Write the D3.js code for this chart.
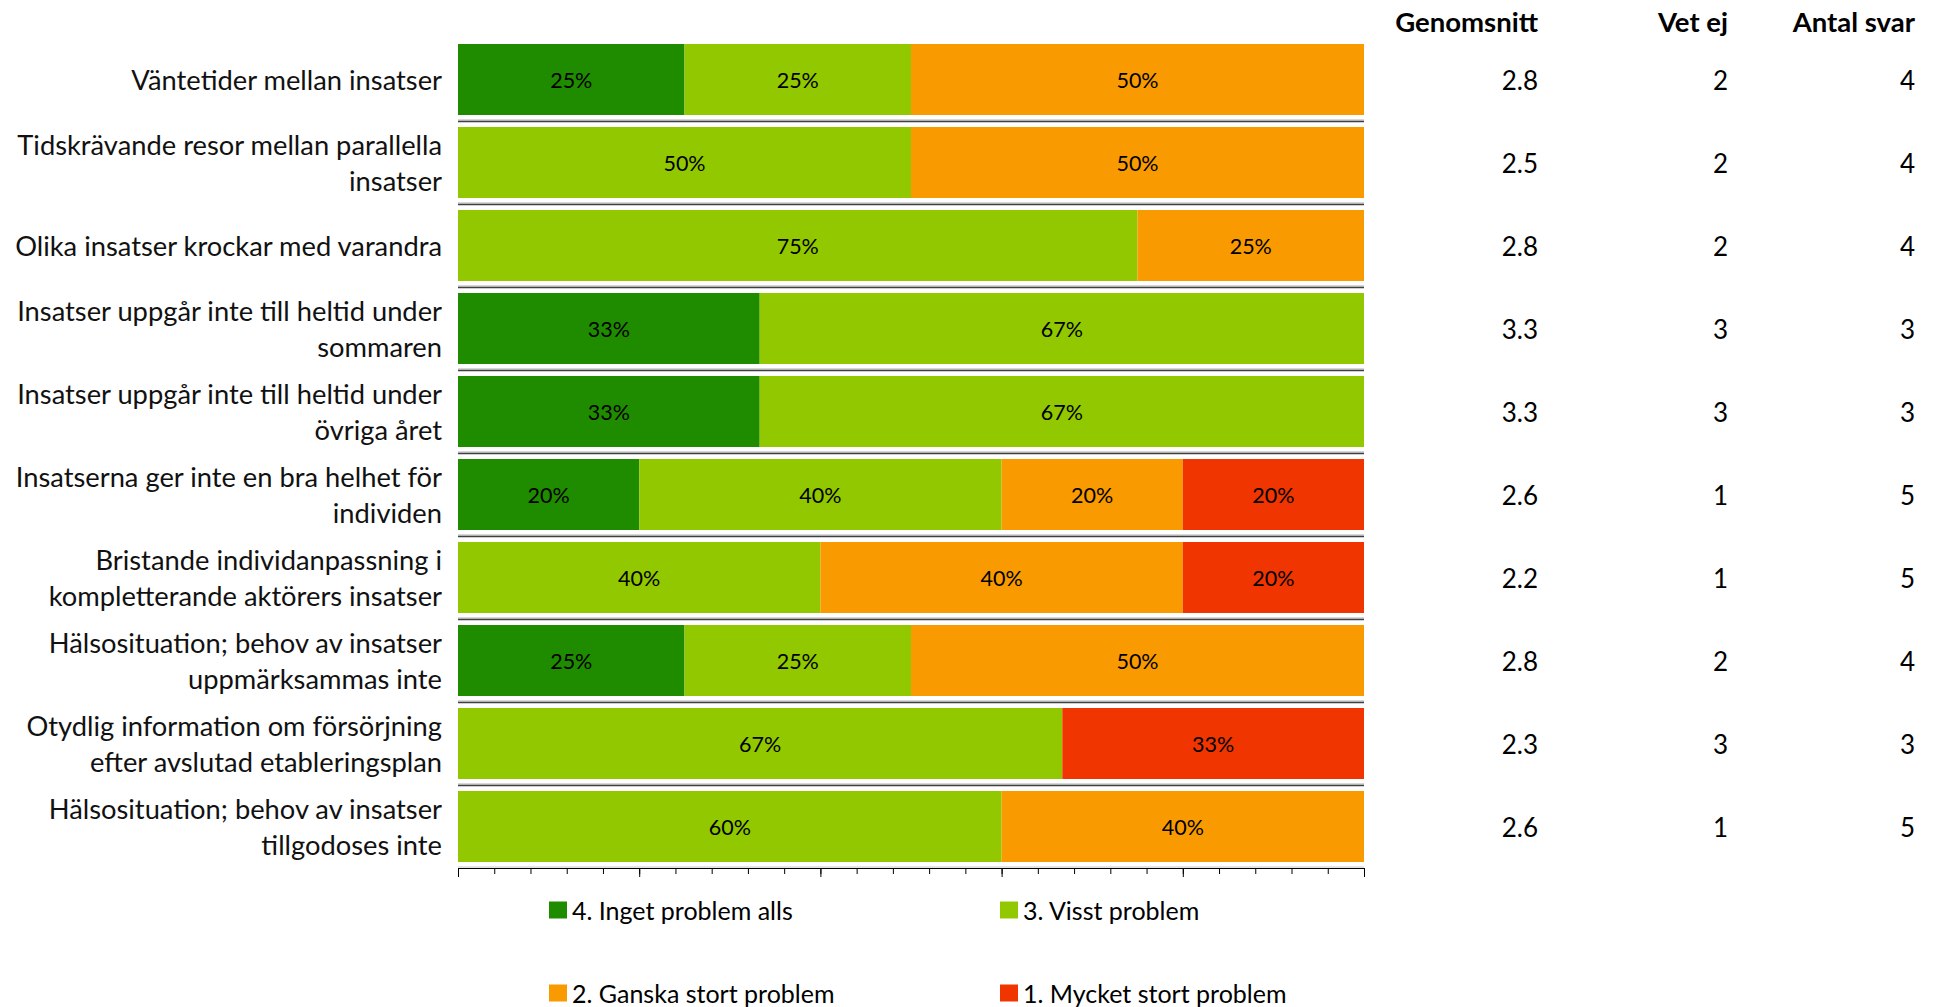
<!DOCTYPE html>
<html><head><meta charset="utf-8">
<script src="https://cdn.jsdelivr.net/npm/d3@7"></script>
<style>
html,body{margin:0;padding:0;background:#fff;}
svg{display:block;font-family:Lato,"Open Sans",sans-serif;}
</style></head>
<body>
<svg id="chart" width="1934" height="1007"></svg>
<script>
const categories = [
  "Väntetider mellan insatser",
  "Tidskrävande resor mellan parallella|insatser",
  "Olika insatser krockar med varandra",
  "Insatser uppgår inte till heltid under|sommaren",
  "Insatser uppgår inte till heltid under|övriga året",
  "Insatserna ger inte en bra helhet för|individen",
  "Bristande individanpassning i|kompletterande aktörers insatser",
  "Hälsosituation; behov av insatser|uppmärksammas inte",
  "Otydlig information om försörjning|efter avslutad etableringsplan",
  "Hälsosituation; behov av insatser|tillgodoses inte"
];
const seriesNames = ["4. Inget problem alls","3. Visst problem","2. Ganska stort problem","1. Mycket stort problem"];
const inget  = [25, 0, 0, 33.3, 33.3, 20, 0, 25, 0, 0];
const visst  = [25, 50, 75, 66.7, 66.7, 40, 40, 25, 66.7, 60];
const ganska = [50, 50, 25, 0, 0, 20, 40, 50, 0, 40];
const mycket = [0, 0, 0, 0, 0, 20, 20, 0, 33.3, 0];
const genomsnitt = ["2.8","2.5","2.8","3.3","3.3","2.6","2.2","2.8","2.3","2.6"];
const vetEj = [2,2,2,3,3,1,1,2,3,1];
const antalSvar = [4,4,4,3,3,5,5,4,3,5];
const columnHeaders = ["Genomsnitt","Vet ej","Antal svar"];
const colors = ["#1f8c00","#92c800","#f99b00","#f03500"];

const svg = d3.select("#chart");
const X0 = 458, X1 = 1364;
const x = d3.scaleLinear().domain([0,100]).range([X0, X1]);
const y = d3.scaleBand().domain(d3.range(categories.length)).range([38, 868]).paddingInner(0.1446).paddingOuter(0.0723);

const rows = categories.map((c,i)=>({i, vals:[inget[i],visst[i],ganska[i],mycket[i]]}));
const keys = [0,1,2,3];
const stack = d3.stack().keys(keys).value((d,k)=>d.vals[k]);
const stacked = stack(rows);

// separators
const step = y.step();
const sep = svg.append("g");
for (let k=1;k<categories.length;k++){
  const yy = 38 + k*step;
  sep.append("line").attr("x1",X0).attr("x2",X1).attr("y1",yy-1).attr("y2",yy-1).attr("stroke","#b0b0b0").attr("stroke-width",1);
  sep.append("line").attr("x1",X0).attr("x2",X1).attr("y1",yy+0.5).attr("y2",yy+0.5).attr("stroke","#404040").attr("stroke-width",1.5);
}

// bars
const g = svg.append("g");
stacked.forEach((layer,k)=>{
  const lg = g.append("g").attr("fill",colors[k]);
  lg.selectAll("rect").data(layer.filter(d=>d[1]-d[0]>0)).join("rect")
    .attr("x",d=>x(d[0])).attr("width",d=>x(d[1])-x(d[0]))
    .attr("y",d=>y(d.data.i)).attr("height",y.bandwidth());
  g.append("g").selectAll("text").data(layer.filter(d=>d[1]-d[0]>0)).join("text")
    .attr("x",d=>(x(d[0])+x(d[1]))/2).attr("y",d=>y(d.data.i)+y.bandwidth()/2)
    .attr("text-anchor","middle").attr("dominant-baseline","central")
    .attr("font-size",21.5).attr("fill","#000")
    .text(d=>Math.round(d[1]-d[0])+"%");
});

// axis
const axisY = 868;
const ax = svg.append("g").attr("transform",`translate(0,${axisY})`);
ax.append("line").attr("x1",X0).attr("x2",X1).attr("y1",-1).attr("y2",-1).attr("stroke","#c8c8c8").attr("stroke-width",1);
const major = d3.axisBottom(x).tickValues(d3.range(0,101,20)).tickSize(9).tickFormat("");
const minor = d3.axisBottom(x).tickValues(d3.range(0,101,4)).tickSize(6).tickFormat("");
ax.append("g").call(minor).call(s=>s.select(".domain").remove()).selectAll("line").attr("stroke","#000");
ax.append("g").call(major).call(s=>s.select(".domain").attr("stroke","#000").attr("stroke-width",1.2).attr("d",`M${X0},0.5H${X1}`)).selectAll("line").attr("stroke","#000");

// category labels
const lab = svg.append("g").attr("font-size",27.3).attr("fill","#000").attr("text-anchor","end");
categories.forEach((c,i)=>{
  const lines = c.split("|");
  const cy = y(i)+y.bandwidth()/2;
  const lh = 36;
  const t = lab.append("text").attr("x",442).attr("y",cy).attr("fill","#111");
  lines.forEach((ln,j)=>{
    t.append("tspan").attr("x",442).attr("y",cy + (j-(lines.length-1)/2)*lh).attr("dominant-baseline","central").text(ln);
  });
});

// right columns
const colX = [1538,1728,1915];
const hdr = svg.append("g").attr("font-size",27.5).attr("font-weight","bold").attr("text-anchor","end");
columnHeaders.forEach((h,j)=>hdr.append("text").attr("x",colX[j]).attr("y",21).attr("dominant-baseline","central").text(h));
const colData = [genomsnitt, vetEj, antalSvar];
colData.forEach((arr,j)=>{
  svg.append("g").attr("font-size",26).attr("text-anchor","end").selectAll("text").data(arr).join("text")
    .attr("x",colX[j]).attr("y",(d,i)=>y(i)+y.bandwidth()/2).attr("dominant-baseline","central").text(d=>d);
});

// legend
const legPos = [[549,910],[1000,910],[549,993],[1000,993]];
const leg = svg.append("g").attr("font-size",25);
seriesNames.forEach((n,k)=>{
  const [lx,ly] = legPos[k];
  leg.append("rect").attr("x",lx).attr("y",ly-8.5).attr("width",18).attr("height",17).attr("fill",colors[k]);
  leg.append("text").attr("x",lx+23).attr("y",ly).attr("dominant-baseline","central").text(n);
});
</script>
</body></html>
